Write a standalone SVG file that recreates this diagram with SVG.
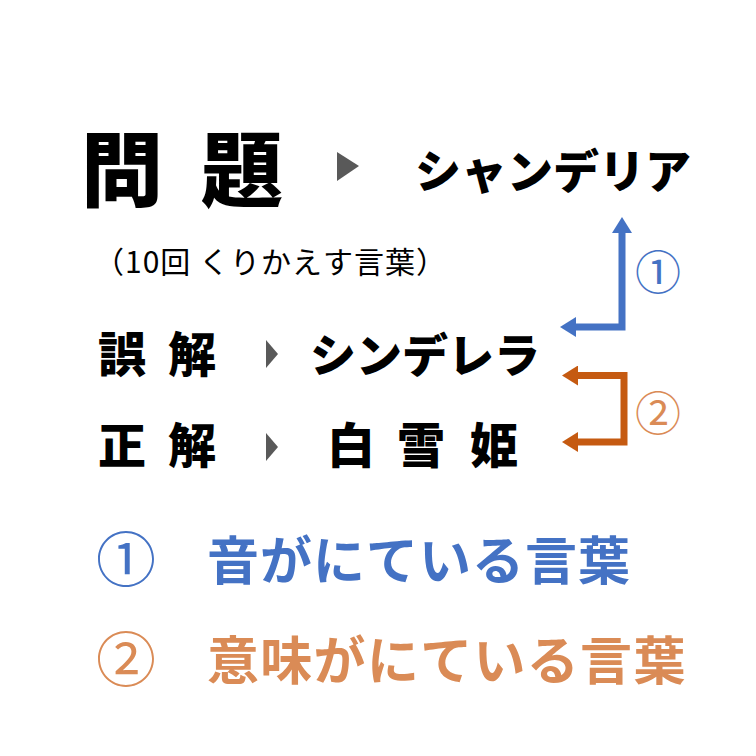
<svg xmlns="http://www.w3.org/2000/svg" width="756" height="756" viewBox="0 0 756 756">
<style>
text { font-family: "Noto Sans CJK JP", "Noto Sans", sans-serif; }
.blk { fill: #000; font-weight: 900; }
.tri { fill: #595959; }
.blue { fill: #4472C4; }
.orng { fill: #DA8B56; }
.cb { fill: none; stroke: #4472C4; stroke-width: 7; stroke-linejoin: miter; }
.co { fill: none; stroke: #C55A11; stroke-width: 7; stroke-linejoin: miter; }
</style>
<defs>
<marker id="ab" markerUnits="userSpaceOnUse" markerWidth="16" markerHeight="20" refX="0" refY="10" orient="auto-start-reverse" viewBox="0 0 16 20">
<path d="M0,0 L16,10 L0,20 z" fill="#4472C4"/>
</marker>
<marker id="ao" markerUnits="userSpaceOnUse" markerWidth="16" markerHeight="20" refX="0" refY="10" orient="auto-start-reverse" viewBox="0 0 16 20">
<path d="M0,0 L16,10 L0,20 z" fill="#C55A11"/>
</marker>
</defs>
<rect width="756" height="756" fill="#fff"/>

<g id="mondai">
<text class="blk" x="81 201" y="200" font-size="82">問題</text>
<polygon class="tri" points="337,152 359,166 337,181"/>
<text class="blk" x="415" y="188" font-size="46">シャンデリア</text>
</g>

<g id="note">
<text x="94" y="273" font-size="30" letter-spacing="1" fill="#000">（10回 くりかえす言葉）</text>
</g>

<g id="gokai">
<text class="blk" x="98 168" y="372" font-size="48">誤解</text>
<polygon class="tri" points="266,340 278,354 266,368"/>
<text class="blk" x="310" y="372" font-size="46">シンデレラ</text>
</g>

<g id="seikai">
<text class="blk" x="98 168" y="463" font-size="48">正解</text>
<polygon class="tri" points="266,433 278,447 266,461"/>
<text class="blk" x="327 397 470" y="463" font-size="48">白雪姫</text>
</g>

<g id="connectors">
<path class="cb" d="M576,327 H622 V233" marker-start="url(#ab)" marker-end="url(#ab)"/>
<path class="co" d="M578,375.5 H624 V442 H578" marker-start="url(#ao)" marker-end="url(#ao)"/>
</g>

<g id="label1">
<text class="blue" x="658" y="289" font-size="46" text-anchor="middle">①</text>
</g>
<g id="label2">
<text class="orng" x="658" y="430" font-size="46" text-anchor="middle">②</text>
</g>

<g id="legend1">
<text class="blue" x="96" y="582" font-size="60">①</text>
<text class="blue" x="207" y="580" font-size="52" letter-spacing="1" font-weight="700">音がにている言葉</text>
</g>
<g id="legend2">
<text class="orng" x="96" y="682" font-size="60">②</text>
<text class="orng" x="207" y="680" font-size="52" letter-spacing="1.3" font-weight="700">意味がにている言葉</text>
</g>
</svg>
